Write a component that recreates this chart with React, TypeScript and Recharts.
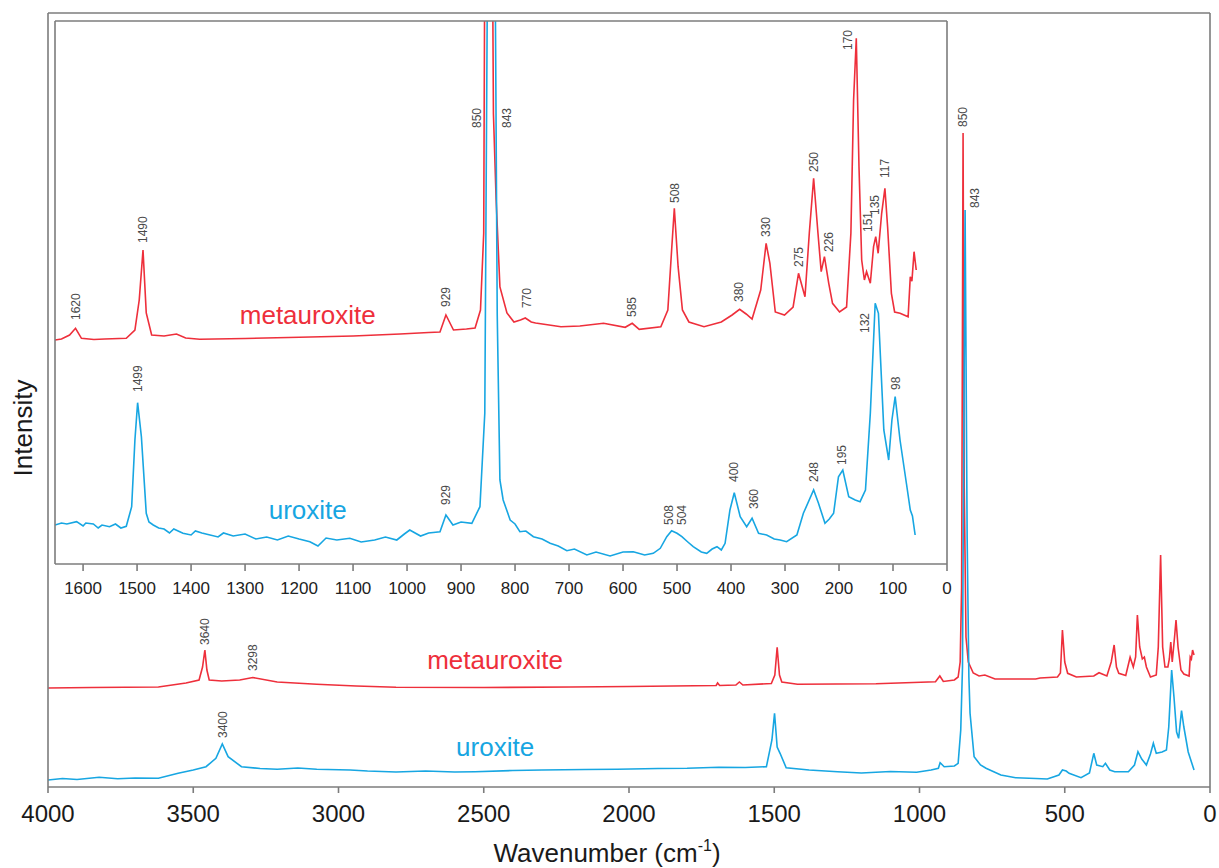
import React from 'react';
import { ComposedChart, Line, XAxis, YAxis, Scatter } from 'recharts';

// ---------- data (wavenumber cm-1, intensity in arbitrary units) ----------
const mainTicks = [4000, 3500, 3000, 2500, 2000, 1500, 1000, 500, 0];
const insetTicks = [1600, 1500, 1400, 1300, 1200, 1100, 1000, 900, 800, 700, 600, 500, 400, 300, 200, 100, 0];

const mainMetauroxite: [number, number][] = [
  [4000, 99], [3850, 99.5], [3620, 100], [3525, 104], [3480, 107], [3468, 120], [3460, 137], [3453, 117],
  [3445, 107], [3402, 106], [3340, 107], [3295, 109.5], [3211, 105], [3075, 102.7], [2939, 101], [2802, 99.7],
  [2500, 99.5], [2200, 100], [2000, 100.5], [1700, 101.5], [1695, 104], [1688, 101.5], [1632, 102], [1620, 105],
  [1608, 102], [1510, 103.5], [1498, 112], [1490, 139.7], [1482, 112], [1474, 105], [1420, 102.7], [1150, 103.3],
  [945, 105.3], [930, 111], [918, 105.5], [880, 107], [867, 110], [860, 125], [855, 200], [850, 654], [846, 300],
  [840, 150], [832, 125], [815, 114], [795, 111], [775, 112], [740, 108], [600, 108], [585, 109], [525, 110],
  [515, 114], [508, 157], [500, 125], [490, 113.7], [460, 110], [400, 111], [382, 114.3], [355, 111], [340, 125],
  [330, 142], [322, 120], [314, 113.7], [290, 111.5], [275, 129.7], [264, 120], [256, 130], [250, 172], [242, 140],
  [233, 128], [226, 130], [219, 120], [205, 110], [185, 112], [178, 140], [170, 232], [163, 140], [155, 120],
  [145, 120], [140, 128], [135, 145], [130, 125], [122, 150], [117, 167], [110, 140], [100, 117], [90, 113],
  [72, 111], [68, 130], [64, 128], [60, 137], [55, 132],
];

const mainUroxite: [number, number][] = [
  [4000, 7], [3950, 8.5], [3900, 7.5], [3824, 9.7], [3760, 8.2], [3700, 9], [3620, 8.7], [3552, 13.7], [3500, 17],
  [3456, 20.3], [3422, 28.7], [3400, 43], [3380, 30.3], [3334, 20.3], [3270, 18.5], [3211, 17.7], [3140, 19],
  [3075, 17.7], [2960, 17], [2900, 16], [2802, 15], [2700, 16], [2600, 15], [2530, 15.3], [2400, 16.5],
  [2300, 17], [2150, 17.5], [2040, 17.7], [1900, 18.5], [1800, 18.7], [1691, 19.7], [1600, 19.5], [1527, 20.3],
  [1508, 47], [1499, 73.7], [1490, 40], [1480, 33.7], [1459, 19.3], [1380, 17], [1282, 15.3], [1200, 14],
  [1100, 15.5], [1010, 14.7], [960, 17], [935, 18.7], [929, 24.3], [915, 20.3], [880, 21], [867, 23.7], [858, 57],
  [852, 120], [843, 577], [836, 250], [830, 110], [826, 73.7], [812, 30.3], [790, 22], [771, 18.7], [720, 12],
  [669, 9.3], [600, 8.5], [560, 8], [520, 12], [508, 17], [495, 16], [485, 13.7], [444, 9.3], [415, 14],
  [400, 33.7], [390, 22], [369, 20.3], [360, 23.7], [345, 17], [328, 15.3], [281, 15.3], [260, 22], [248, 35.3],
  [235, 28], [219, 22], [205, 33], [195, 43.7], [185, 33.7], [165, 35], [150, 37], [142, 60], [132, 117],
  [124, 90], [115, 55], [108, 48.7], [98, 76.3], [90, 60], [75, 35], [55, 17],
];

const insetMetauroxite: [number, number][] = [
  [1652, 224], [1640, 225], [1625, 229], [1614, 235.7], [1603, 225.7], [1580, 224.5], [1560, 225], [1520, 225.7],
  [1504, 234], [1496, 264], [1489, 314], [1483, 251], [1473, 229], [1450, 228], [1427, 230], [1410, 226],
  [1384, 224.7], [1300, 225.5], [1199, 226.7], [1100, 228], [1013, 230], [960, 231.5], [939, 232], [928, 249],
  [914, 234], [890, 235], [874, 236], [864, 254], [858, 331], [854, 900], [850, 1583], [845, 900], [840, 450],
  [835, 364], [828, 277], [815, 251], [802, 242], [790, 244], [781, 246], [770, 242], [762, 241], [715, 237.3],
  [680, 238], [636, 240.7], [596, 236.7], [583, 240.7], [570, 234.7], [530, 237.3], [517, 254], [510, 314],
  [505, 355.7], [498, 297.3], [490, 254], [478, 242], [450, 237.3], [418, 242], [398, 249], [384, 254.7],
  [372, 250], [361, 245], [345, 274], [335, 320.7], [328, 300.7], [318, 252], [301, 249], [285, 257],
  [275, 290.7], [263, 267.3], [255, 331], [247, 385.7], [239, 331], [233, 292.3], [227, 307.3], [219, 280.7],
  [212, 260.7], [199, 252], [186, 257], [178, 330.7], [173, 464], [168, 525.7], [163, 397.3], [158, 304],
  [153, 284], [149, 292.3], [142, 280.7], [136, 317.3], [132, 327.3], [127.5, 310.7], [121, 350.7], [115, 375.7],
  [110, 337.3], [103, 270.7], [97, 252], [87, 250.7], [72, 247.3], [68, 287.3], [65, 282.7], [61, 312.3], [57, 294],
];

const insetUroxite: [number, number][] = [
  [1652, 39], [1640, 41], [1630, 40], [1612, 42.3], [1600, 38], [1595, 41], [1581, 40], [1572, 36], [1565, 39],
  [1551, 37.3], [1540, 40], [1530, 36], [1520, 37.7], [1510, 57.3], [1504, 124], [1499, 161.3], [1492, 127.3],
  [1483, 50.7], [1478, 42], [1470, 39], [1460, 36], [1450, 35], [1440, 31], [1432, 35], [1415, 30.7], [1400, 29],
  [1392, 33], [1380, 31], [1350, 27], [1340, 31], [1322, 28], [1300, 30], [1280, 25], [1260, 27], [1240, 24],
  [1220, 28], [1200, 25], [1180, 22.3], [1165, 18], [1150, 26], [1130, 24], [1106, 25.7], [1085, 22], [1060, 24],
  [1040, 27], [1019, 24], [1005, 30], [995, 34], [975, 28], [960, 31], [939, 32.3], [928, 49], [915, 39],
  [900, 42], [880, 40.7], [865, 57.3], [856, 151], [851, 600], [844, 1300], [838, 700], [833, 250], [828, 84],
  [822, 64], [809, 44], [800, 40], [791, 32.3], [780, 33], [766, 27.3], [750, 25], [735, 20.7], [720, 18],
  [704, 13.3], [690, 15], [667, 9], [650, 12], [624, 8], [600, 12], [581, 12.3], [560, 9], [544, 10.7],
  [531, 15.7], [519, 27.3], [510, 33.3], [500, 30.7], [491, 27.3], [480, 22], [470, 17.3], [455, 12], [445, 10.7],
  [435, 15], [426, 17.3], [418, 14], [411, 20.7], [402, 54], [394, 71.3], [383, 47.3], [371, 37.3], [361, 45.7],
  [349, 30.7], [334, 29], [320, 25], [309, 24], [297, 22.3], [278, 29], [266, 50.7], [247, 74], [238, 60.7],
  [226, 40.7], [218, 45], [210, 50.7], [201, 87.3], [193, 94], [182, 67.3], [170, 64], [161, 62.3], [151, 74],
  [142, 150.7], [133, 260.7], [127, 250.7], [117, 134], [108, 104], [102, 144], [96, 167.3], [87, 124],
  [75, 80], [68, 54], [64, 48], [59, 29],
];

// peak annotation anchors (wavenumber, intensity at text base, text)
const mainPeakLabels: [number, number, string][] = [
  [3459, 142, '3640'], [3294, 116, '3298'], [3399, 49, '3400'], [850, 660, '850'], [809, 579, '843'],
];
const insetPeakLabels: [number, number, string][] = [
  [1614, 244, '1620'], [1489, 321, '1490'], [928, 257, '929'], [870, 436, '850'], [815, 436, '843'],
  [778, 256, '770'], [583, 247, '585'], [504, 361, '508'], [386, 262, '380'], [335, 327, '330'],
  [274, 297, '275'], [246, 392, '250'], [219, 312, '226'], [183, 514, '170'], [146, 332, '151'],
  [133, 349, '135'], [114.5, 386, '117'],
  [1499, 172, '1499'], [928, 59, '929'], [514, 39, '508'], [491, 39, '504'], [394, 82, '400'],
  [357, 55, '360'], [246, 82, '248'], [194, 99, '195'], [152, 231, '132'], [94, 174, '98'],
];
const mainNameMeta: [number, number, string][] = [[2461, 127, 'metauroxite']];
const mainNameUro: [number, number, string][] = [[2461, 40, 'uroxite']];
const insetNameMeta: [number, number, string][] = [[1184, 249, 'metauroxite']];
const insetNameUro: [number, number, string][] = [[1184, 54, 'uroxite']];

// ---------- styling ----------
const RED = '#ee2f3b';
const BLUE = '#17a6e2';
const FRAME = '#7c7c7c';
const FONT = '"Liberation Sans", Arial, Helvetica, sans-serif';

const pts = (a: [number, number][]) => a.map(([w, v]) => ({ w, v }));
const labs = (a: [number, number, string][]) => a.map(([w, v, t]) => ({ w, v, t }));

const PeakLabel = (props: any) => {
  const { cx, cy, payload } = props;
  if (cx == null || cy == null) return <g />;
  return (
    <text x={cx} y={cy} transform={`rotate(-90 ${cx} ${cy})`} textAnchor="start" dominantBaseline="central"
      fontSize={12} fill="#4a4a4a" fontFamily={FONT}>{payload.t}</text>
  );
};
const makeName = (color: string) => (props: any) => {
  const { cx, cy, payload } = props;
  if (cx == null || cy == null) return <g />;
  return (
    <text x={cx} y={cy} textAnchor="middle" dominantBaseline="central" fontSize={26} fill={color}
      fontFamily={FONT}>{payload.t}</text>
  );
};
const RedName = makeName(RED);
const BlueName = makeName(BLUE);

const XTitle = (props: any) => {
  const vb = props.viewBox || {};
  const x = vb.x + vb.width / 2 - 22;
  const y = vb.y + 75;
  return (
    <text x={x} y={y} textAnchor="middle" fontSize={26} fill="#1a1a1a" fontFamily={FONT}>
      Wavenumber (cm<tspan dy={-11} fontSize={16}>-1</tspan><tspan dy={11}>)</tspan>
    </text>
  );
};
const YTitle = (props: any) => {
  const vb = props.viewBox || {};
  const x = vb.x + vb.width - 16.5;
  const y = vb.y + vb.height / 2 + 28;
  return (
    <text x={x} y={y} transform={`rotate(-90 ${x} ${y})`} textAnchor="middle" fontSize={26} fill="#1a1a1a"
      fontFamily={FONT}>Intensity</text>
  );
};

export default function App() {
  return (
    <div style={{ position: 'absolute', left: 0, top: 0, width: 1219, height: 868, background: '#fff' }}>
      <div style={{ position: 'absolute', left: 0, top: 0 }}>
        <ComposedChart width={1219} height={868} margin={{ top: 12, right: 8, bottom: 21, left: 47 }}>
          <XAxis xAxisId="b" type="number" dataKey="w" domain={[0, 4000]} reversed ticks={mainTicks} interval={0}
            height={60} tickSize={6} tickMargin={12} allowDataOverflow
            tick={{ fontSize: 24, fill: '#1a1a1a', fontFamily: FONT }} stroke={FRAME} strokeWidth={1.6}
            label={{ content: XTitle }} />
          <XAxis xAxisId="t" orientation="top" type="number" dataKey="w" domain={[0, 4000]} reversed height={1}
            tick={false} tickLine={false} stroke={FRAME} strokeWidth={1.6} />
          <YAxis yAxisId="l" type="number" domain={[0, 774]} width={1} tick={false} tickLine={false}
            stroke={FRAME} strokeWidth={1.6} allowDataOverflow label={{ content: YTitle }} />
          <YAxis yAxisId="r" orientation="right" type="number" domain={[0, 774]} width={1} tick={false}
            tickLine={false} stroke={FRAME} strokeWidth={1.6} />
          <Line xAxisId="b" yAxisId="l" data={pts(mainMetauroxite)} dataKey="v" type="linear" stroke={RED}
            strokeWidth={1.6} dot={false} isAnimationActive={false} />
          <Line xAxisId="b" yAxisId="l" data={pts(mainUroxite)} dataKey="v" type="linear" stroke={BLUE}
            strokeWidth={1.6} dot={false} isAnimationActive={false} />
          <Scatter xAxisId="b" yAxisId="l" data={labs(mainPeakLabels)} dataKey="v" shape={PeakLabel}
            isAnimationActive={false} />
          <Scatter xAxisId="b" yAxisId="l" data={labs(mainNameMeta)} dataKey="v" shape={RedName}
            isAnimationActive={false} />
          <Scatter xAxisId="b" yAxisId="l" data={labs(mainNameUro)} dataKey="v" shape={BlueName}
            isAnimationActive={false} />
        </ComposedChart>
      </div>
      <div style={{ position: 'absolute', left: 0, top: 0 }}>
        <ComposedChart width={1219} height={620} margin={{ top: 20, right: 271, bottom: 16, left: 54 }}>
          <XAxis xAxisId="b" type="number" dataKey="w" domain={[0, 1652]} reversed ticks={insetTicks} interval={0}
            height={40} tickSize={7} tickMargin={11} allowDataOverflow
            tick={{ fontSize: 17, fill: '#222', fontFamily: FONT }} stroke={FRAME} strokeWidth={1.6} />
          <XAxis xAxisId="t" orientation="top" type="number" dataKey="w" domain={[0, 1652]} reversed height={1}
            tick={false} tickLine={false} stroke={FRAME} strokeWidth={1.6} />
          <YAxis yAxisId="l" type="number" domain={[0, 543]} width={1} tick={false} tickLine={false}
            stroke={FRAME} strokeWidth={1.6} allowDataOverflow />
          <YAxis yAxisId="r" orientation="right" type="number" domain={[0, 543]} width={1} tick={false}
            tickLine={false} stroke={FRAME} strokeWidth={1.6} />
          <Line xAxisId="b" yAxisId="l" data={pts(insetMetauroxite)} dataKey="v" type="linear" stroke={RED}
            strokeWidth={1.6} dot={false} isAnimationActive={false} />
          <Line xAxisId="b" yAxisId="l" data={pts(insetUroxite)} dataKey="v" type="linear" stroke={BLUE}
            strokeWidth={1.6} dot={false} isAnimationActive={false} />
          <Scatter xAxisId="b" yAxisId="l" data={labs(insetPeakLabels)} dataKey="v" shape={PeakLabel}
            isAnimationActive={false} />
          <Scatter xAxisId="b" yAxisId="l" data={labs(insetNameMeta)} dataKey="v" shape={RedName}
            isAnimationActive={false} />
          <Scatter xAxisId="b" yAxisId="l" data={labs(insetNameUro)} dataKey="v" shape={BlueName}
            isAnimationActive={false} />
        </ComposedChart>
      </div>
    </div>
  );
}
